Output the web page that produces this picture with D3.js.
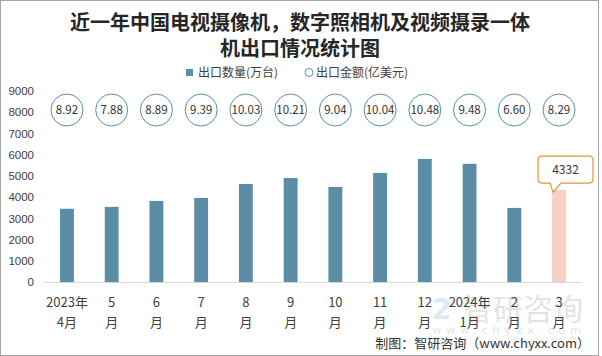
<!DOCTYPE html>
<html><head><meta charset="utf-8">
<script src="https://cdn.jsdelivr.net/npm/d3@7/dist/d3.min.js"></script>
<style>body{margin:0;background:#fff;} svg{display:block;}</style>
</head><body>
<svg id="c" width="602" height="356"></svg>
<script>
const months1 = ["2023年","5","6","7","8","9","10","11","12","2024年","2","3"];
const months2 = ["4月","月","月","月","月","月","月","月","月","1月","月","月"];
const quantity = [3450, 3540, 3820, 3960, 4620, 4900, 4480, 5140, 5800, 5570, 3490, 4332];
const amount = ["8.92","7.88","8.89","9.39","10.03","10.21","9.04","10.04","10.48","9.48","6.60","8.29"];
const yTicks = [0,1000,2000,3000,4000,5000,6000,7000,8000,9000];
const titleLines = ["近一年中国电视摄像机，数字照相机及视频摄录一体","机出口情况统计图"];
const legendNames = ["出口数量(万台)","出口金额(亿美元)"];

const svg = d3.select("#c");
svg.append("rect").attr("x",0.5).attr("y",0.5).attr("width",598).attr("height",355)
  .attr("fill","#fff").attr("stroke","#a6a6a6");

const idx = d3.range(quantity.length);
const x = d3.scaleBand().domain(idx).range([44.6,581.4]).paddingInner(0.69).paddingOuter(0.345);
const y = d3.scaleLinear().domain([0,9000]).range([282,91]);

// title
svg.append("g").selectAll("text").data(titleLines).join("text")
  .attr("x",300).attr("y",(d,i)=>30+i*26).attr("text-anchor","middle")
  .attr("font-family","'Noto Sans CJK SC',sans-serif").attr("font-weight","bold")
  .attr("font-size",20).attr("fill","#262626").text(d=>d);

// legend
const lg = svg.append("g").attr("font-family","'Noto Sans CJK SC',sans-serif").attr("font-size",12).attr("fill","#404040");
lg.append("rect").attr("x",186).attr("y",69).attr("width",7).attr("height",7).attr("fill","#5b8ea6");
lg.append("text").attr("x",198).attr("y",77).text(legendNames[0]);
lg.append("circle").attr("cx",309).attr("cy",72.5).attr("r",4).attr("fill","#fff").attr("stroke","#5b8ea6");
lg.append("text").attr("x",316).attr("y",77).text(legendNames[1]);

// watermark logo (faint)
const wm = svg.append("g").attr("opacity",0.2);
wm.append("text").attr("x",463).attr("y",320).attr("font-family","'Noto Sans CJK SC',sans-serif")
  .attr("font-size",30).attr("fill","#777").text("智研咨询");
wm.append("text").attr("x",432).attr("y",334).attr("font-family","'DejaVu Sans',sans-serif")
  .attr("font-size",11).attr("letter-spacing",5).attr("fill","#777").text("www.chyxx.com");
wm.append("text").attr("x",432).attr("y",319).attr("font-family","'DejaVu Sans',sans-serif")
  .attr("font-weight","bold").attr("font-size",28).attr("fill","#5b9bd5").text("2");

// y axis labels
const ya = svg.append("g").attr("transform","translate(34,0)")
  .call(d3.axisLeft(y).tickValues(yTicks).tickSize(0).tickPadding(0).tickFormat(d3.format("d")));
ya.select(".domain").remove();
ya.selectAll("text").attr("font-family","'Liberation Sans',Arial,sans-serif").attr("font-size",11.5).attr("fill","#404040");

// bars
svg.append("g").selectAll("rect").data(quantity).join("rect")
  .attr("x",(d,i)=>x(i)).attr("width",x.bandwidth())
  .attr("y",d=>y(d)).attr("height",d=>y(0)-y(d))
  .attr("fill",(d,i)=>i===quantity.length-1?"#f8cfc4":"#5b8ea6");

// x axis
const xa = svg.append("g").attr("transform","translate(0,282)")
  .call(d3.axisBottom(x).tickSize(0).tickFormat(""));
xa.select(".domain").attr("stroke","#d9d9d9").attr("stroke-width",1.2);
const xl = svg.append("g").attr("font-family","'Noto Sans CJK SC',sans-serif").attr("font-size",13).attr("fill","#404040").attr("text-anchor","middle");
xl.selectAll("text.l1").data(months1).join("text").attr("class","l1")
  .attr("x",(d,i)=>x(i)+x.bandwidth()/2).attr("y",307).text(d=>d);
xl.selectAll("text.l2").data(months2).join("text").attr("class","l2")
  .attr("x",(d,i)=>x(i)+x.bandwidth()/2).attr("y",327).text(d=>d);

// amount circles
const cg = svg.append("g").selectAll("g").data(amount).join("g")
  .attr("transform",(d,i)=>`translate(${x(i)+x.bandwidth()/2},110)`);
cg.append("circle").attr("r",16).attr("fill","#fff").attr("stroke","#5b8ea6").attr("stroke-width",1);
cg.append("text").attr("text-anchor","middle").attr("dy","0.35em")
  .attr("font-family","'Noto Sans CJK SC',sans-serif").attr("font-size",11.5).attr("fill","#333").text(d=>d);

// callout for last bar
const li = quantity.length-1;
const cx = x(li)+x.bandwidth()/2;
const ty = y(quantity[li]);
const bx0 = cx-21, bx1 = cx+34, by0 = ty-34, by1 = ty-7;
const r=4;
const p = d3.path();
p.moveTo(bx0+r,by0); p.lineTo(bx1-r,by0); p.quadraticCurveTo(bx1,by0,bx1,by0+r);
p.lineTo(bx1,by1-r); p.quadraticCurveTo(bx1,by1,bx1-r,by1);
p.lineTo(cx+2,by1); p.lineTo(cx-6,ty+2); p.lineTo(cx-9,by1);
p.lineTo(bx0+r,by1); p.quadraticCurveTo(bx0,by1,bx0,by1-r);
p.lineTo(bx0,by0+r); p.quadraticCurveTo(bx0,by0,bx0+r,by0); p.closePath();
svg.append("path").attr("d",p.toString()).attr("fill","#fff").attr("stroke","#e8913a").attr("stroke-width",1.2);
svg.append("text").attr("x",(bx0+bx1)/2).attr("y",(by0+by1)/2).attr("dy","0.35em").attr("text-anchor","middle")
  .attr("font-family","'Noto Sans CJK SC',sans-serif").attr("font-size",12).attr("fill","#333").text(quantity[li]);

// source
svg.append("text").attr("x",590).attr("y",348).attr("text-anchor","end")
  .attr("font-family","'Noto Sans CJK SC',sans-serif").attr("font-size",13).attr("fill","#333")
  .text("制图：智研咨询（www.chyxx.com）");
</script>
</body></html>
